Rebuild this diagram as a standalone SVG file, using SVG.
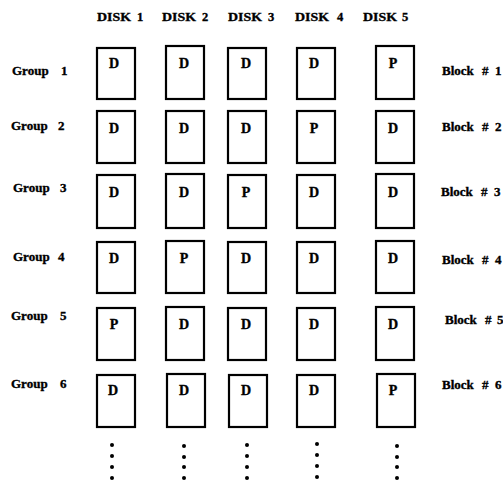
<svg xmlns="http://www.w3.org/2000/svg" width="503" height="486" viewBox="0 0 503 486">
<style>
.t{font-family:"Liberation Serif","Times New Roman",serif;font-weight:bold;font-size:13px;fill:#000;stroke:#000;stroke-width:0.35}
.h{font-size:12.5px}
.m{font-size:14px;text-anchor:middle}
.b{fill:#fff;stroke:#000;stroke-width:2.2}
.d{fill:#000}
</style>
<rect width="503" height="486" fill="#fff"/>
<g id="headers">
<text class="t h" x="97" y="21" textLength="34" lengthAdjust="spacingAndGlyphs">DISK</text><text class="t h" x="137" y="21">1</text>
<text class="t h" x="162" y="21" textLength="34" lengthAdjust="spacingAndGlyphs">DISK</text><text class="t h" x="202" y="21">2</text>
<text class="t h" x="228" y="21" textLength="34" lengthAdjust="spacingAndGlyphs">DISK</text><text class="t h" x="268" y="21">3</text>
<text class="t h" x="295" y="21" textLength="34" lengthAdjust="spacingAndGlyphs">DISK</text><text class="t h" x="337" y="21">4</text>
<text class="t h" x="363" y="21" textLength="34" lengthAdjust="spacingAndGlyphs">DISK</text><text class="t h" x="402" y="21">5</text>
</g>
<g id="group-labels">
<text class="t" x="12" y="75">Group</text><text class="t" x="61" y="75">1</text>
<text class="t" x="11" y="130">Group</text><text class="t" x="58" y="130">2</text>
<text class="t" x="13" y="192">Group</text><text class="t" x="60" y="192">3</text>
<text class="t" x="13" y="261">Group</text><text class="t" x="58" y="261">4</text>
<text class="t" x="11" y="320">Group</text><text class="t" x="60" y="320">5</text>
<text class="t" x="11" y="388">Group</text><text class="t" x="60" y="388">6</text>
</g>
<g id="block-labels">
<text class="t" x="442" y="75">Block</text><text class="t" x="482" y="75">#</text><text class="t" x="495" y="75">1</text>
<text class="t" x="442" y="131">Block</text><text class="t" x="482" y="131">#</text><text class="t" x="495" y="131">2</text>
<text class="t" x="441" y="196">Block</text><text class="t" x="481" y="196">#</text><text class="t" x="494" y="196">3</text>
<text class="t" x="442" y="264">Block</text><text class="t" x="482" y="264">#</text><text class="t" x="495" y="264">4</text>
<text class="t" x="445" y="324">Block</text><text class="t" x="485" y="324">#</text><text class="t" x="497" y="324">5</text>
<text class="t" x="442" y="389">Block</text><text class="t" x="482" y="389">#</text><text class="t" x="495" y="389">6</text>
</g>
<g id="row1">
<g id="g1d1"><rect class="b" x="97" y="48" width="38" height="51"/><text class="t m" x="114" y="68">D</text></g>
<g id="g1d2"><rect class="b" x="166" y="46" width="38" height="53"/><text class="t m" x="184" y="68">D</text></g>
<g id="g1d3"><rect class="b" x="228" y="48" width="38" height="51"/><text class="t m" x="246" y="68">D</text></g>
<g id="g1d4"><rect class="b" x="297" y="48" width="38" height="51"/><text class="t m" x="314" y="68">D</text></g>
<g id="g1d5"><rect class="b" x="376" y="46" width="38" height="53"/><text class="t m" x="393" y="68">P</text></g>
</g>
<g id="row2">
<g id="g2d1"><rect class="b" x="97" y="111" width="38" height="52"/><text class="t m" x="114" y="133">D</text></g>
<g id="g2d2"><rect class="b" x="166" y="111" width="38" height="52"/><text class="t m" x="184" y="133">D</text></g>
<g id="g2d3"><rect class="b" x="228" y="111" width="38" height="52"/><text class="t m" x="246" y="133">D</text></g>
<g id="g2d4"><rect class="b" x="297" y="111" width="38" height="52"/><text class="t m" x="314" y="133">P</text></g>
<g id="g2d5"><rect class="b" x="376" y="111" width="38" height="52"/><text class="t m" x="393" y="133">D</text></g>
</g>
<g id="row3">
<g id="g3d1"><rect class="b" x="97" y="175" width="38" height="53"/><text class="t m" x="114" y="197">D</text></g>
<g id="g3d2"><rect class="b" x="166" y="174" width="38" height="54"/><text class="t m" x="184" y="197">D</text></g>
<g id="g3d3"><rect class="b" x="228" y="175" width="38" height="53"/><text class="t m" x="246" y="197">P</text></g>
<g id="g3d4"><rect class="b" x="297" y="175" width="38" height="53"/><text class="t m" x="314" y="197">D</text></g>
<g id="g3d5"><rect class="b" x="376" y="174" width="38" height="54"/><text class="t m" x="393" y="197">D</text></g>
</g>
<g id="row4">
<g id="g4d1"><rect class="b" x="97" y="242" width="38" height="51"/><text class="t m" x="114" y="263">D</text></g>
<g id="g4d2"><rect class="b" x="166" y="241" width="38" height="52"/><text class="t m" x="184" y="263">P</text></g>
<g id="g4d3"><rect class="b" x="228" y="242" width="38" height="51"/><text class="t m" x="246" y="263">D</text></g>
<g id="g4d4"><rect class="b" x="297" y="242" width="38" height="51"/><text class="t m" x="314" y="263">D</text></g>
<g id="g4d5"><rect class="b" x="376" y="241" width="38" height="52"/><text class="t m" x="393" y="263">D</text></g>
</g>
<g id="row5">
<g id="g5d1"><rect class="b" x="97" y="308" width="38" height="52"/><text class="t m" x="114" y="329">P</text></g>
<g id="g5d2"><rect class="b" x="166" y="307" width="38" height="53"/><text class="t m" x="184" y="329">D</text></g>
<g id="g5d3"><rect class="b" x="228" y="308" width="38" height="52"/><text class="t m" x="246" y="329">D</text></g>
<g id="g5d4"><rect class="b" x="297" y="308" width="38" height="52"/><text class="t m" x="314" y="329">D</text></g>
<g id="g5d5"><rect class="b" x="376" y="307" width="38" height="53"/><text class="t m" x="393" y="329">D</text></g>
</g>
<g id="row6">
<g id="g6d1"><rect class="b" x="97" y="375" width="38" height="52"/><text class="t m" x="113" y="395">D</text></g>
<g id="g6d2"><rect class="b" x="167" y="374" width="38" height="53"/><text class="t m" x="184" y="395">D</text></g>
<g id="g6d3"><rect class="b" x="229" y="375" width="38" height="52"/><text class="t m" x="246" y="395">D</text></g>
<g id="g6d4"><rect class="b" x="297" y="375" width="38" height="52"/><text class="t m" x="314" y="395">D</text></g>
<g id="g6d5"><rect class="b" x="377" y="374" width="38" height="53"/><text class="t m" x="393" y="395">P</text></g>
</g>
<g id="continuation-dots">
<circle class="d" cx="112" cy="445" r="2"/><circle class="d" cx="112" cy="456" r="2"/><circle class="d" cx="112" cy="467" r="2"/><circle class="d" cx="112" cy="478" r="2"/>
<circle class="d" cx="184" cy="446" r="2"/><circle class="d" cx="184" cy="457" r="2"/><circle class="d" cx="184" cy="467" r="2"/><circle class="d" cx="184" cy="478" r="2"/>
<circle class="d" cx="247" cy="445" r="2"/><circle class="d" cx="247" cy="456" r="2"/><circle class="d" cx="247" cy="467" r="2"/><circle class="d" cx="247" cy="478" r="2"/>
<circle class="d" cx="317" cy="444" r="2"/><circle class="d" cx="317" cy="455" r="2"/><circle class="d" cx="317" cy="466" r="2"/><circle class="d" cx="317" cy="477" r="2"/>
<circle class="d" cx="397" cy="446" r="2"/><circle class="d" cx="397" cy="457" r="2"/><circle class="d" cx="397" cy="467" r="2"/><circle class="d" cx="397" cy="478" r="2"/>
</g>
</svg>
